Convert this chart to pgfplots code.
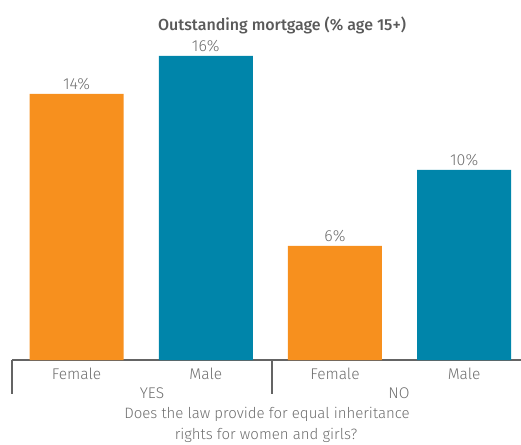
\documentclass[border=0pt]{standalone}
\usepackage{fontspec}
\setmainfont{Fira Sans Light}[BoldFont={Fira Sans Medium}]
\usepackage{pgfplots}
\pgfplotsset{compat=1.18}
\definecolor{orng}{RGB}{247,144,30}
\definecolor{blu}{RGB}{0,133,170}
\definecolor{txt}{RGB}{110,110,110}
\definecolor{ttl}{RGB}{90,90,90}
\definecolor{axl}{RGB}{100,100,100}
\begin{document}
\begin{tikzpicture}[x=1pt,y=1pt]
\useasboundingbox (0,0) rectangle (521,444);
\begin{axis}[
  at={(12pt,84pt)}, anchor=south west,
  scale only axis, width=509pt, height=320pt,
  xmin=-0.5, xmax=3.44, ymin=0, ymax=16.84,
  axis x line=bottom, axis y line=none,
  axis line style={draw=axl, line width=1.6pt, -},
  xtick={0,1,2,3}, xticklabels={Female,Male,Female,Male},
  major tick length=0pt,
  /pgf/number format/assume math mode=true,
  xticklabel style={font=\fontsize{15.5}{19}\selectfont, text=txt, anchor=center, yshift=-14pt},
  ybar, bar width=94pt, bar shift=0pt,
  nodes near coords={\pgfmathprintnumber{\pgfplotspointmeta}\%},
  nodes near coords style={font=\fontsize{16}{19}\selectfont, text=txt, anchor=south, yshift=1pt},
  clip=false,
]
\addplot[fill=orng, draw=none] coordinates {(0,14) (2,6)};
\addplot[fill=blu, draw=none] coordinates {(1,16) (3,10)};
\end{axis}
\draw[axl, line width=1.4pt] (12,84) -- (12,50);
\draw[axl, line width=1.4pt] (272,84) -- (272,50);
\node[font=\fontsize{16}{19}\selectfont\bfseries, text=ttl] at (282,419) {Outstanding mortgage (\% age 15+)};
\node[font=\fontsize{15.5}{19}\selectfont, text=txt] at (152,51) {YES};
\node[font=\fontsize{15.5}{19}\selectfont, text=txt] at (399,51) {NO};
\node[font=\fontsize{15}{19}\selectfont, text=txt] at (267,30) {Does the law provide for equal inheritance};
\node[font=\fontsize{15}{19}\selectfont, text=txt] at (266,9) {rights for women and girls?};
\end{tikzpicture}
\end{document}
